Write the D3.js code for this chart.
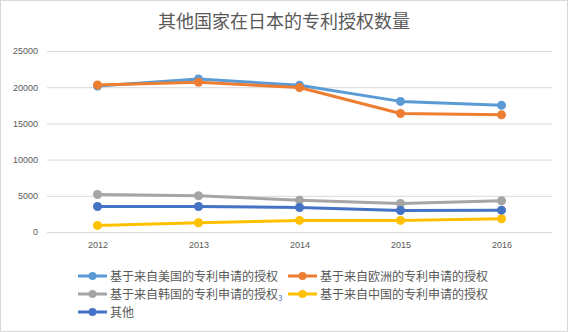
<!DOCTYPE html>
<html><head><meta charset="utf-8">
<script src="https://cdn.jsdelivr.net/npm/d3@7"></script>
<style>body{margin:0;background:#fff}svg{display:block;font-family:"Noto Sans CJK SC","Noto Sans",sans-serif}</style>
</head><body><svg id="c" width="568" height="332"></svg>
<script>
const title = "其他国家在日本的专利授权数量";
const years = ["2012","2013","2014","2015","2016"];
const yTicks = [0,5000,10000,15000,20000,25000];
const seriesNames = ["基于来自美国的专利申请的授权","基于来自欧洲的专利申请的授权","基于来自韩国的专利申请的授权","基于来自中国的专利申请的授权","其他"];
const seriesColors = ["#5B9BD5","#ED7D31","#A5A5A5","#FFC000","#4472C4"];
const usa = [20150,21130,20270,18040,17490];
const europe = [20310,20680,19950,16360,16180];
const korea = [5180,5000,4400,3940,4310];
const china = [910,1280,1600,1600,1830];
const other = [3520,3520,3380,2970,3020];
const seriesValues = [usa, europe, korea, china, other];

const svg = d3.select("#c");
svg.append("rect").attr("x",0.5).attr("y",0.5).attr("width",567).attr("height",331)
  .attr("fill","#fff").attr("stroke","#d9d9d9");
svg.append("text").attr("x",284).attr("y",28).attr("text-anchor","middle")
  .attr("font-size",18).attr("fill","#595959").text(title);

const x = d3.scalePoint().domain(years).range([47,552]).padding(0.5);
const y = d3.scaleLinear().domain([0,25000]).range([232,51]);

const yAxis = svg.append("g").attr("transform","translate(47,0)")
  .call(d3.axisLeft(y).tickValues(yTicks).tickSize(-505).tickPadding(9).tickFormat(d3.format("d")));
yAxis.select(".domain").remove();
yAxis.selectAll("line").attr("stroke","#d9d9d9");
yAxis.selectAll("text").attr("fill","#595959").attr("font-size",9).attr("font-family","Liberation Sans, sans-serif");

const xAxis = svg.append("g").attr("transform","translate(0,240)")
  .call(d3.axisBottom(x).tickSize(0).tickPadding(2));
xAxis.select(".domain").remove();
xAxis.selectAll("text").attr("fill","#595959").attr("font-size",9).attr("font-family","Liberation Sans, sans-serif");

const line = d3.line().x((d,i)=>x(years[i])).y(d=>y(d));
seriesValues.forEach((vals,k)=>{
  const g = svg.append("g");
  g.append("path").datum(vals).attr("d",line).attr("fill","none")
    .attr("stroke",seriesColors[k]).attr("stroke-width",3).attr("stroke-linejoin","round");
  g.selectAll("circle").data(vals).join("circle")
    .attr("cx",(d,i)=>x(years[i])).attr("cy",d=>y(d)).attr("r",4.5).attr("fill",seriesColors[k]);
});

// legend
const legPos = [[78,276],[288,276],[78,294],[288,294],[78,312]];
seriesNames.forEach((name,k)=>{
  const [lx,ly] = legPos[k];
  const g = svg.append("g");
  g.append("line").attr("x1",lx).attr("x2",lx+29).attr("y1",ly).attr("y2",ly)
    .attr("stroke",seriesColors[k]).attr("stroke-width",3);
  g.append("circle").attr("cx",lx+14.5).attr("cy",ly).attr("r",4).attr("fill",seriesColors[k]);
  const t = g.append("text").attr("x",lx+32).attr("y",ly+4.5).attr("font-size",12).attr("fill","#595959").text(name);
  if(k===2) t.append("tspan").attr("font-size",8).attr("fill","#4472C4").attr("dy",2).text("3");
});
</script></body></html>
